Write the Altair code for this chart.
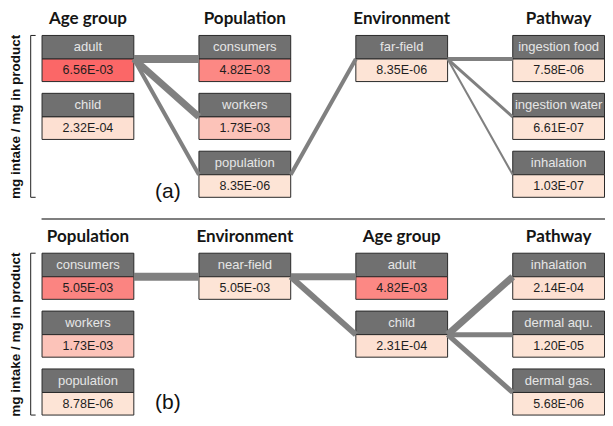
import altair as alt
import pandas as pd

# ---------------- data ----------------
col_titles_a = ["Age group", "Population", "Environment", "Pathway"]
col_titles_b = ["Population", "Environment", "Age group", "Pathway"]

labels_a = [["adult", "child"],
            ["consumers", "workers", "population"],
            ["far-field"],
            ["ingestion food", "ingestion water", "inhalation"]]
values_a = [[6.56e-03, 2.32e-04],
            [4.82e-03, 1.73e-03, 8.35e-06],
            [8.35e-06],
            [7.58e-06, 6.61e-07, 1.03e-07]]

labels_b = [["consumers", "workers", "population"],
            ["near-field"],
            ["adult", "child"],
            ["inhalation", "dermal aqu.", "dermal gas."]]
values_b = [[5.05e-03, 1.73e-03, 8.78e-06],
            [5.05e-03],
            [4.82e-03, 2.31e-04],
            [2.14e-04, 1.20e-05, 5.68e-06]]

# links: (column,row) -> (column,row) and relative weight
links_a_src = [(0, 0), (0, 0), (0, 0), (1, 2), (2, 0), (2, 0), (2, 0)]
links_a_dst = [(1, 0), (1, 1), (1, 2), (2, 0), (3, 0), (3, 1), (3, 2)]
links_a_weight = [8, 7, 4, 4, 4, 3, 2]
links_b_src = [(0, 0), (1, 0), (1, 0), (2, 1), (2, 1), (2, 1)]
links_b_dst = [(1, 0), (2, 0), (2, 1), (3, 0), (3, 1), (3, 2)]
links_b_weight = [8, 7, 6, 7, 5, 5]

panel_tags = ["(a)", "(b)"]
y_title = "mg intake / mg in product"
unshaded_column = "Environment"   # this column's cells are not colour-graded

# ---------------- layout (not data) ----------------
W, H = 597, 410            # drawable size (page minus 8px margins)
RW, RH = 605.0, 418.0      # layout reference extent
COL_PITCH, COL0 = 159.0, 81.0
ROW_PITCH, ROW0 = 59.0, 52.0
SHIFT = 222.0 / ROW_PITCH
HALF_W = 46.5 / COL_PITCH
HEAD_H = 24.0 / ROW_PITCH
VAL_H = 23.0 / ROW_PITCH
TAG_Y = [2.30, 2.19]
TITLE_Y = -0.60

xs = alt.Scale(domain=[-COL0 / COL_PITCH, (RW - COL0) / COL_PITCH], nice=False, zero=False)
ys = alt.Scale(domain=[-ROW0 / ROW_PITCH, (RH - ROW0) / ROW_PITCH], nice=False, zero=False, reverse=True)

panels = [(col_titles_a, labels_a, values_a, links_a_src, links_a_dst, links_a_weight),
          (col_titles_b, labels_b, values_b, links_b_src, links_b_dst, links_b_weight)]

node_rows, link_rows, title_rows, tag_rows, brk_rows, ylab_rows = [], [], [], [], [], []
for p, (titles, labs, vals, srcs, dsts, wts) in enumerate(panels):
    off = p * SHIFT
    for c, t in enumerate(titles):
        title_rows.append(dict(x=c, y=off + TITLE_Y, text=t))
    for c, (lc, vc) in enumerate(zip(labs, vals)):
        for r, (lab, v) in enumerate(zip(lc, vc)):
            node_rows.append(dict(
                x1=c - HALF_W, x2=c + HALF_W, xc=c,
                yh1=r + off - HEAD_H, yb=r + off, yv2=r + off + VAL_H,
                yht=r + off - HEAD_H / 2, yvt=r + off + VAL_H / 2,
                label=lab, value=v, vtext=f"{v:.2E}",
                shade=0.0 if titles[c] == unshaded_column else v))
    for (sc, sr), (dc, dr), w in zip(srcs, dsts, wts):
        link_rows.append(dict(x1=sc + HALF_W, y1=sr + off, x2=dc - HALF_W, y2=dr + off, w=w))
    tag_rows.append(dict(x=0.51, y=off + TAG_Y[p], text=panel_tags[p]))
    bx = (23 - COL0) / COL_PITCH
    bx2 = (28 - COL0) / COL_PITCH
    top, bot = off - HEAD_H, off + 2 + VAL_H
    brk_rows.append(dict(x1=bx, x2=bx, y1=top, y2=bot, dash=1))
    brk_rows.append(dict(x1=bx, x2=bx2, y1=top, y2=top, dash=0))
    brk_rows.append(dict(x1=bx, x2=bx2, y1=bot, y2=bot, dash=0))
    ylab_rows.append(dict(x=(8.5 - COL0) / COL_PITCH, y=off + 1, text=y_title))

nodes = pd.DataFrame(node_rows)
links = pd.DataFrame(link_rows)
titles_df = pd.DataFrame(title_rows)
tags_df = pd.DataFrame(tag_rows)
brk_df = pd.DataFrame(brk_rows)
ylab_df = pd.DataFrame(ylab_rows)
sep_df = pd.DataFrame([dict(x1=(34 - COL0) / COL_PITCH, x2=(RW - COL0) / COL_PITCH, y=(215 - ROW0) / ROW_PITCH)])

X = lambda f: alt.X(f, type="quantitative", scale=xs, axis=None)
Y = lambda f: alt.Y(f, type="quantitative", scale=ys, axis=None)

head = alt.Chart(nodes).mark_rect(fill="#707070", stroke="#2a2a2a", strokeWidth=1).encode(
    x=X("x1"), x2="x2", y=Y("yh1"), y2="yb")
val = alt.Chart(nodes).mark_rect(stroke="#2a2a2a", strokeWidth=1).encode(
    x=X("x1"), x2="x2", y=Y("yb"), y2="yv2",
    fill=alt.Fill("shade:Q", scale=alt.Scale(domain=[0, 0.00656], range=["#fde4d6", "#fb6767"],
                                             interpolate="rgb", clamp=True),
                  legend=None))
head_txt = alt.Chart(nodes).mark_text(font="Liberation Sans", fontSize=13, color="#e6e6e6",
                                      baseline="middle").encode(x=X("xc"), y=Y("yht"), text="label:N")
val_txt = alt.Chart(nodes).mark_text(font="Liberation Sans", fontSize=12.5, color="#1e1e1e",
                                     baseline="middle").encode(x=X("xc"), y=Y("yvt"), text="vtext:N")
link_layer = alt.Chart(links).mark_rule(color="#808080", strokeCap="butt").encode(
    x=X("x1"), y=Y("y1"), x2="x2", y2="y2", strokeWidth=alt.StrokeWidth("w:Q", scale=None))
title_layer = alt.Chart(titles_df).mark_text(font="Lato", fontWeight="bold", fontSize=17, color="#151515",
                                             baseline="alphabetic").encode(x=X("x"), y=Y("y"), text="text:N")
tag_layer = alt.Chart(tags_df).mark_text(font="Liberation Sans", fontSize=21, color="#111111",
                                         baseline="middle").encode(x=X("x"), y=Y("y"), text="text:N")
brk_layer = alt.Chart(brk_df).mark_rule(color="#222222", strokeWidth=1).encode(
    x=X("x1"), x2="x2", y=Y("y1"), y2="y2",
    strokeDash=alt.StrokeDash("dash:N", scale=alt.Scale(domain=["0", "1"], range=[[1, 0], [3, 2]]), legend=None))
ylab_layer = alt.Chart(ylab_df).mark_text(font="Liberation Sans", fontWeight="bold", fontSize=13.5, angle=270,
                                          color="#111111", baseline="middle").encode(x=X("x"), y=Y("y"), text="text:N")
sep_layer = alt.Chart(sep_df).mark_rule(color="#555555", strokeWidth=1.5).encode(
    x=X("x1"), x2="x2", y=Y("y"))

chart = alt.layer(sep_layer, brk_layer, ylab_layer, title_layer, head, val, head_txt, val_txt,
                  link_layer, tag_layer).properties(
    width=W, height=H, padding=0, autosize=alt.AutoSizeParams(type="none")
).configure_view(stroke=None)

chart.save("out.html", embed_options={"renderer": "svg", "actions": False})
